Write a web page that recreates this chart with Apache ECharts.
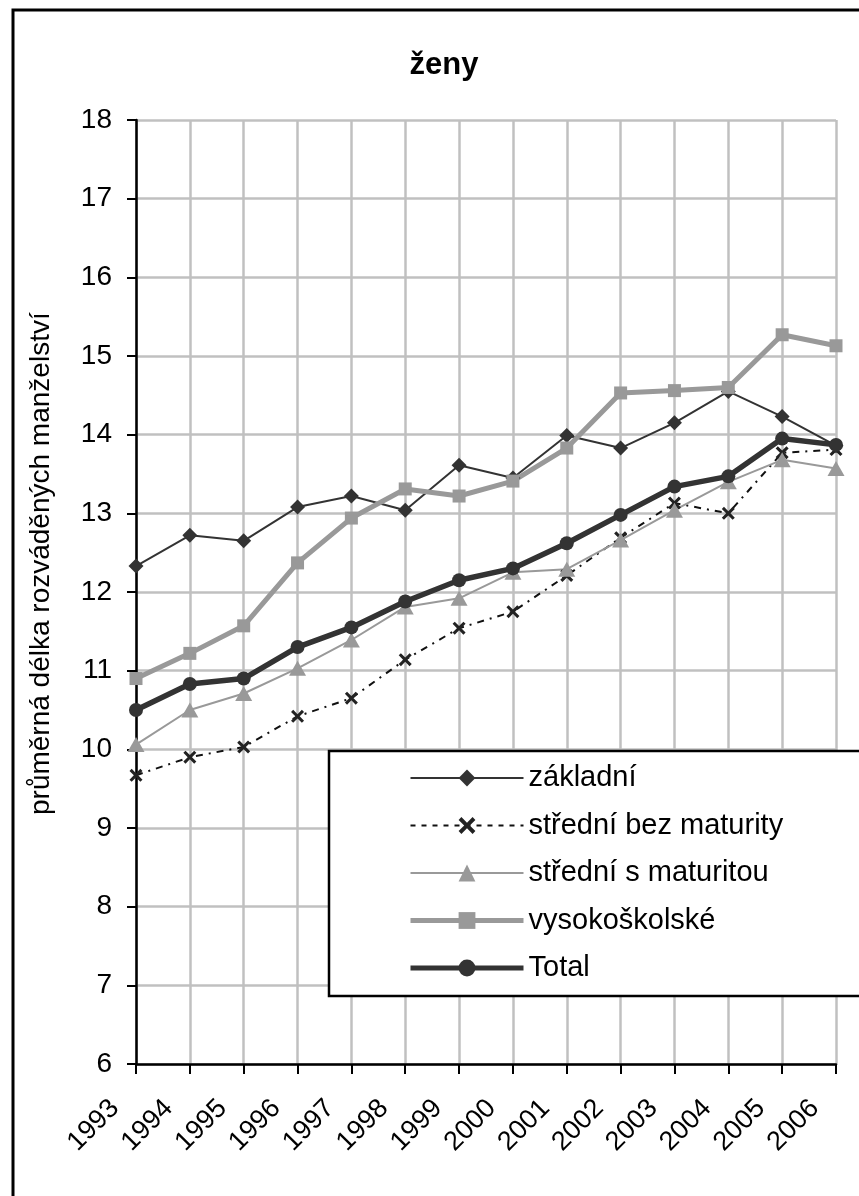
<!DOCTYPE html>
<html>
<head>
<meta charset="utf-8">
<script src="https://cdn.jsdelivr.net/npm/echarts@6/dist/echarts.min.js"></script>
<style>
  html, body { margin: 0; padding: 0; background: #fff; }
  #main { width: 859px; height: 1196px; }
</style>
</head>
<body>
<div id="main"></div>
<script>
// roky
var years = ['1993', '1994', '1995', '1996', '1997', '1998', '1999', '2000', '2001', '2002', '2003', '2004', '2005', '2006'];
// hodnoty
var zakladni = [12.33, 12.72, 12.65, 13.08, 13.22, 13.04, 13.61, 13.45, 13.99, 13.83, 14.15, 14.55, 14.23, 13.86];
var stredniBez = [9.67, 9.90, 10.03, 10.42, 10.65, 11.14, 11.54, 11.75, 12.21, 12.69, 13.13, 13.00, 13.77, 13.81];
var stredniS = [10.06, 10.50, 10.71, 11.03, 11.39, 11.81, 11.92, 12.25, 12.29, 12.66, 13.04, 13.40, 13.68, 13.57];
var vysokoskolske = [10.90, 11.22, 11.57, 12.37, 12.94, 13.31, 13.22, 13.41, 13.83, 14.53, 14.56, 14.60, 15.27, 15.13];
var total = [10.50, 10.83, 10.90, 11.30, 11.55, 11.88, 12.15, 12.30, 12.62, 12.98, 13.34, 13.47, 13.95, 13.87];
var yMin = 6, yMax = 18, yStep = 1;

var font = 'Arial, "Liberation Sans", sans-serif';
var dark = '#333333';
var gray = '#999999';
var crossPath = 'path://M2,0L6,4L10,0L12,2L8,6L12,10L10,12L6,8L2,12L0,10L4,6L0,2Z';

var myChart = echarts.init(document.getElementById('main'));
myChart.setOption({
  animation: false,
  backgroundColor: '#fff',
  title: {
    text: 'ženy',
    left: 439,
    top: 45,
    textAlign: 'center',
    textStyle: { fontFamily: font, fontSize: 31, fontWeight: 'bold', color: '#000' }
  },
  graphic: [
    // rámeček kolem celého grafu
    {
      type: 'rect', z: 1,
      shape: { x: 13, y: 10, width: 900, height: 1300 },
      style: { fill: null, stroke: '#000', lineWidth: 3 }
    },
    // rámeček legendy
    {
      type: 'rect', z: 3,
      shape: { x: 329, y: 751, width: 560, height: 245 },
      style: { fill: '#fff', stroke: '#000', lineWidth: 2.5 }
    },
    // popis osy y
    {
      type: 'text', z: 3,
      x: 41, y: 815, rotation: Math.PI / 2,
      style: {
        text: 'průměrná délka rozváděných manželství',
        fontFamily: font, fontSize: 28, fill: '#000',
        align: 'left', verticalAlign: 'middle'
      }
    }
  ],
  legend: {
    orient: 'vertical',
    left: 408,
    top: 762,
    padding: 0,
    itemWidth: 113,
    itemHeight: 21,
    itemGap: 15.5,
    textStyle: { fontFamily: font, fontSize: 29, color: '#000', lineHeight: 32 },
    data: [
      { name: 'základní', lineStyle: { width: 2 } },
      { name: 'střední bez maturity', lineStyle: { width: 2, type: [5, 6] } },
      { name: 'střední s maturitou', lineStyle: { width: 2 } },
      { name: 'vysokoškolské', lineStyle: { width: 5 } },
      { name: 'Total', lineStyle: { width: 5 } }
    ]
  },
  grid: { left: 136, top: 120, right: 23, bottom: 132 },
  xAxis: {
    type: 'category',
    data: years,
    boundaryGap: false,
    axisLine: { lineStyle: { color: '#000', width: 2.5 } },
    axisTick: { show: true, length: 10, lineStyle: { color: '#000', width: 2 } },
    axisLabel: {
      rotate: 45, margin: 19, interval: 0, padding: [0, 30, 0, 0],
      fontFamily: font, fontSize: 27, color: '#000'
    },
    splitLine: { show: true, lineStyle: { color: '#c0c0c0', width: 2.5 } }
  },
  yAxis: {
    type: 'value',
    min: yMin, max: yMax, interval: yStep,
    axisLine: { show: true, lineStyle: { color: '#000', width: 2.5 } },
    axisTick: { show: true, length: 9, lineStyle: { color: '#000', width: 2 } },
    axisLabel: { margin: 24, fontFamily: font, fontSize: 28, color: '#000' },
    splitLine: { lineStyle: { color: '#c0c0c0', width: 2.5 } }
  },
  series: [
    {
      name: 'základní', type: 'line', data: zakladni,
      symbol: 'diamond', symbolSize: 15,
      lineStyle: { color: dark, width: 2 },
      itemStyle: { color: dark }
    },
    {
      name: 'střední bez maturity', type: 'line', data: stredniBez,
      symbol: crossPath, symbolSize: 13,
      lineStyle: { color: '#111', width: 2, type: [7, 6, 2, 6] },
      itemStyle: { color: '#222' }
    },
    {
      name: 'střední s maturitou', type: 'line', data: stredniS,
      symbol: 'triangle', symbolSize: [17, 15],
      lineStyle: { color: gray, width: 2 },
      itemStyle: { color: gray }
    },
    {
      name: 'vysokoškolské', type: 'line', data: vysokoskolske,
      symbol: 'rect', symbolSize: 13,
      lineStyle: { color: gray, width: 5 },
      itemStyle: { color: gray }
    },
    {
      name: 'Total', type: 'line', data: total,
      symbol: 'circle', symbolSize: 14,
      lineStyle: { color: dark, width: 5.5 },
      itemStyle: { color: dark }
    }
  ]
});
</script>
</body>
</html>
